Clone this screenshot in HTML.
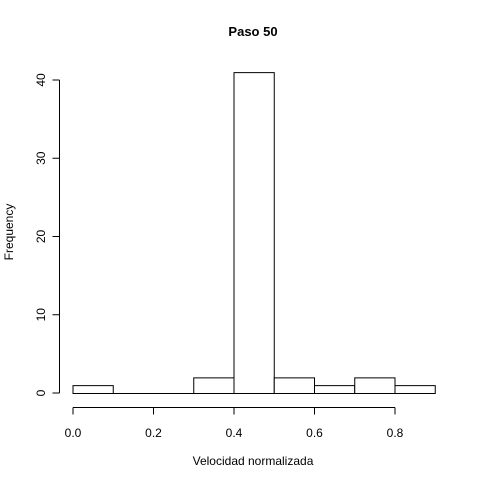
<!DOCTYPE html>
<html><head><meta charset="utf-8"><style>
html,body{margin:0;padding:0;background:#fff;}
svg{display:block;font-family:"Liberation Sans",Arial,sans-serif;}
</style></head><body>
<svg id="chart" width="480" height="480" viewBox="0 0 480 480">
<rect width="480" height="480" fill="#fff"/>
<text x="253" y="36" text-anchor="middle" font-weight="bold" font-size="13">Paso 50</text>
<text x="253" y="465" text-anchor="middle" font-size="12">Velocidad normalizada</text>
<text transform="translate(13,232) rotate(-90)" text-anchor="middle" font-size="12">Frequency</text>
<g id="bars"></g>
<g id="xaxis"></g>
<g id="yaxis"></g>
</svg>
<script>
const binStarts = [0.0, 0.1, 0.2, 0.3, 0.4, 0.5, 0.6, 0.7, 0.8];
const counts = [1, 0, 0, 2, 41, 2, 1, 2, 1];
const binWidth = 0.1;
const xTicks = [0, 0.2, 0.4, 0.6, 0.8];
const xTickLabels = ["0.0", "0.2", "0.4", "0.6", "0.8"];
const yTicks = [0, 10, 20, 30, 40];

const NS = "http://www.w3.org/2000/svg";
function sx(v){ return 73 + v * 402.5; }
function sy(v){ return 393 - v * 7.825; }
function mk(tag, attrs, parent){
  const e = document.createElementNS(NS, tag);
  for (const k in attrs) e.setAttribute(k, attrs[k]);
  parent.appendChild(e);
  return e;
}
const bars = document.getElementById('bars');
binStarts.forEach((b, i) => {
  const x0 = sx(b), x1 = sx(b + binWidth), y = sy(counts[i]), y0 = sy(0) + 0.5;
  const yy = y + 0.5;
  const r = mk('path', {d: 'M' + x0 + ',' + y0 + ' L' + x0 + ',' + yy + ' L' + x1 + ',' + yy + ' L' + x1 + ',' + y0 + ' Z', fill: '#fff', stroke: '#000', 'stroke-width': 1}, bars);
  
  
});
const xa = document.getElementById('xaxis');
mk('line', {x1: sx(xTicks[0]), x2: sx(xTicks[xTicks.length-1]), y1: 407.5, y2: 407.5, stroke: '#000'}, xa);
xTicks.forEach((t, i) => {
  mk('line', {x1: sx(t), x2: sx(t), y1: 407.5, y2: 414.5, stroke: '#000'}, xa);
  const tx = mk('text', {x: sx(t), y: 437, 'text-anchor': 'middle', 'font-size': 12}, xa);
  tx.textContent = xTickLabels[i];
  
  
});
const ya = document.getElementById('yaxis');
mk('line', {x1: 59.5, x2: 59.5, y1: sy(yTicks[0]), y2: sy(yTicks[yTicks.length-1]), stroke: '#000'}, ya);
yTicks.forEach(t => {
  mk('line', {x1: 52.5, x2: 59.5, y1: sy(t), y2: sy(t), stroke: '#000'}, ya);
  const tx = mk('text', {transform: 'translate(45,' + sy(t) + ') rotate(-90)', 'text-anchor': 'middle', 'font-size': 12}, ya);
  tx.textContent = String(t);
  
  
});
</script>
</body></html>
